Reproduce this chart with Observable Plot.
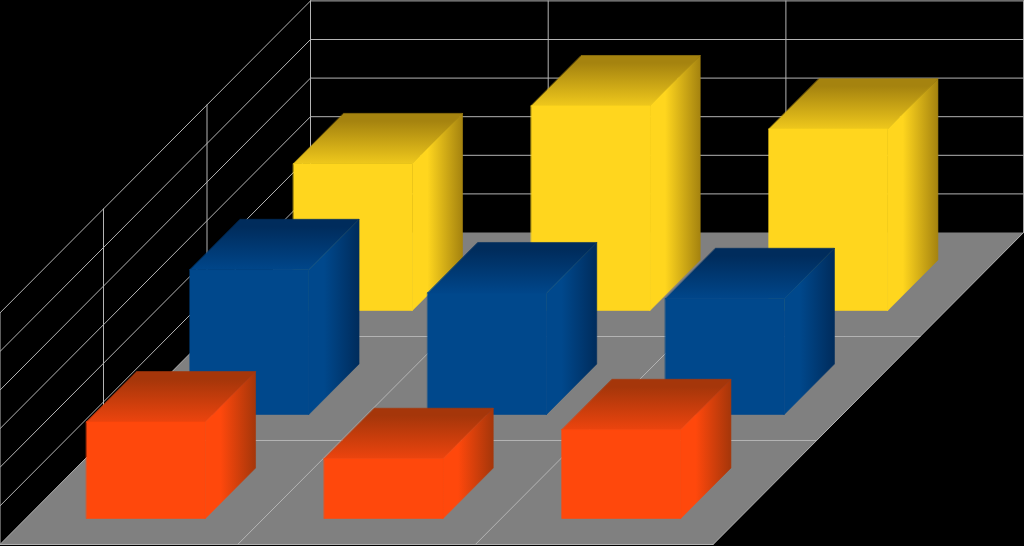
<!DOCTYPE html>
<html>
<head>
<meta charset="utf-8">
<script src="https://cdn.jsdelivr.net/npm/d3@7"></script>
<script src="https://cdn.jsdelivr.net/npm/@observablehq/plot@0.6"></script>
<style>
html,body{margin:0;padding:0;background:#000;overflow:hidden}
svg{display:block}
</style>
</head>
<body>
<div id="chart"></div>
<script>
const categories = ["Category 1", "Category 2", "Category 3"];
const seriesNames = ["Yellow", "Blue", "Orange"]; // back to front
const yellowValues = [3.8, 5.3, 4.7];
const blueValues = [3.75, 3.15, 3.0];
const orangeValues = [2.5, 1.55, 2.3];
const seriesValues = [yellowValues, blueValues, orangeValues];
const valueTicks = [0, 1, 2, 3, 4, 5, 6];
const depthTicks = [0, 1, 2, 3];
const categoryTicks = [0, 1, 2, 3];

// Oblique projection: one series of depth moves left and down in scale units.
const shearX = 0.4354, shearY = 2.694;
const px = (c, d) => c - d * shearX;
const py = (v, d) => v - d * shearY;
const pt = (c, d, v, id, paint) => ({x: px(c, d), y: py(v, d), id, paint});

const paints = {
  Yellow: {front: "#FFD61E", dark: "#A5830F", mid: "#EFC81C", side: "#FFD61E"},
  Blue: {front: "#00488C", dark: "#002C5C", mid: "#00468A", side: "#00488C"},
  Orange: {front: "#FF480C", dark: "#A5360A", mid: "#EC440E", side: "#FF480C"}
};

// Floor
const floor = [
  pt(0, 0, 0, "floor"), pt(3, 0, 0, "floor"), pt(3, 3, 0, "floor"), pt(0, 3, 0, "floor")
];

// Grid lines on walls and floor
const grid = [];
valueTicks.slice(1).forEach(v => {
  grid.push(pt(0, 0, v, `w${v}`), pt(3, 0, v, `w${v}`));
  grid.push(pt(0, 0, v, `s${v}`), pt(0, 3, v, `s${v}`));
});
categoryTicks.forEach(c => {
  grid.push(pt(c, 0, 0, `cv${c}`), pt(c, 0, 6, `cv${c}`));
  grid.push(pt(c, 0, 0, `cf${c}`), pt(c, 3, 0, `cf${c}`));
});
depthTicks.forEach(d => {
  grid.push(pt(0, d, 0, `dv${d}`), pt(0, d, 6, `dv${d}`));
  if (d > 0) grid.push(pt(0, d, 0, `df${d}`), pt(3, d, 0, `df${d}`));
});

// Bars: painted back to front, each with top, side and front faces
const faces = [];
seriesValues.forEach((vals, s) => {
  const name = seriesNames[s];
  vals.forEach((v, c) => {
    const c0 = c + 0.255, c1 = c + 0.755, d0 = s + 0.265, d1 = s + 0.75;
    const k = `${name}-${c}`;
    [[c0, d1, v], [c1, d1, v], [c1, d0, v], [c0, d0, v]]
      .forEach(p => faces.push(pt(p[0], p[1], p[2], `${k}-top`, `url(#top-${name})`)));
    [[c1, d1, 0], [c1, d0, 0], [c1, d0, v], [c1, d1, v]]
      .forEach(p => faces.push(pt(p[0], p[1], p[2], `${k}-side`, `url(#side-${name})`)));
    [[c0, d1, 0], [c1, d1, 0], [c1, d1, v], [c0, d1, v]]
      .forEach(p => faces.push(pt(p[0], p[1], p[2], `${k}-front`, paints[name].front)));
  });
});

function gradients() {
  const defs = d3.create("svg:defs");
  seriesNames.forEach(name => {
    const p = paints[name];
    const top = defs.append("linearGradient").attr("id", `top-${name}`)
      .attr("x1", 0).attr("y1", 0).attr("x2", 0).attr("y2", 1);
    top.append("stop").attr("offset", "0%").attr("stop-color", p.dark);
    top.append("stop").attr("offset", "15%").attr("stop-color", p.dark);
    top.append("stop").attr("offset", "100%").attr("stop-color", p.mid);
    const side = defs.append("linearGradient").attr("id", `side-${name}`)
      .attr("x1", 0).attr("y1", 0).attr("x2", 1).attr("y2", 0);
    side.append("stop").attr("offset", "0%").attr("stop-color", p.side);
    side.append("stop").attr("offset", "30%").attr("stop-color", p.side);
    side.append("stop").attr("offset", "100%").attr("stop-color", p.dark);
  });
  return defs.node();
}

const chart = Plot.plot({
  width: 1024,
  height: 546,
  margin: 0,
  style: {background: "#000"},
  x: {domain: [-310 / 237.7, 714 / 237.7], axis: null},
  y: {domain: [-314 / 38.6, 232 / 38.6], axis: null},
  marks: [
    gradients,
    Plot.line(floor, {x: "x", y: "y", z: "id", fill: "#808080", stroke: "none", curve: "linear-closed"}),
    Plot.line(grid, {x: "x", y: "y", z: "id", stroke: "#b4b4b4", strokeWidth: 1}),
    Plot.line(faces, {x: "x", y: "y", z: "id", fill: {value: "paint", scale: null}, stroke: {value: "paint", scale: null}, strokeWidth: 0.6, curve: "linear-closed"})
  ]
});
document.getElementById("chart").append(chart);
</script>
</body>
</html>
